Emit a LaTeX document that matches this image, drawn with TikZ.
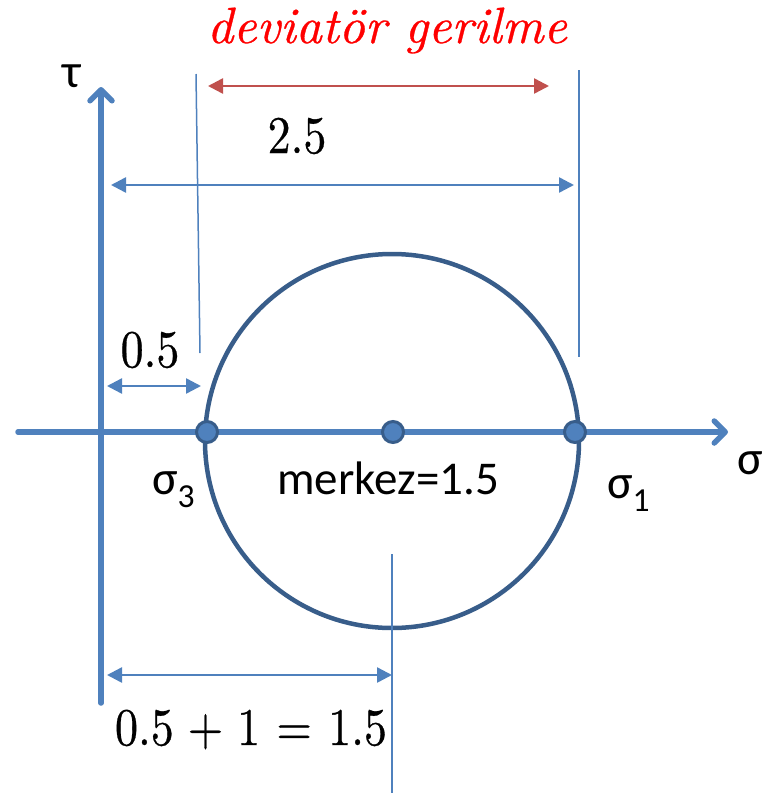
\documentclass[tikz,border=0pt]{standalone}
\usepackage{fontspec}
\usepackage{graphicx}
\newfontfamily\calfont{Carlito}
\newfontfamily\numfont{lmroman10-regular.otf}[FakeBold=0.6]
\newfontfamily\itfont{lmroman10-italic.otf}[FakeBold=0.6]
\usetikzlibrary{arrows.meta}
\definecolor{axisblue}{HTML}{4F81BD}
\definecolor{circblue}{HTML}{385D8A}
\definecolor{arrred}{HTML}{C0504D}
\definecolor{txtred}{HTML}{FF0000}
\tikzset{
  axis/.style={draw=axisblue, line width=5.5pt, line cap=round,
    -{Straight Barb[length=11pt,width=22pt,line cap=round,line join=round]}},
  thinline/.style={draw=axisblue, line width=1.5pt},
  dimarrow/.style={draw=axisblue, line width=2.5pt,
    {Triangle[length=15pt,width=15pt]}-{Triangle[length=15pt,width=15pt]}},
  redarrow/.style={draw=arrred, line width=2.5pt,
    {Triangle[length=15pt,width=15pt]}-{Triangle[length=15pt,width=15pt]}},
  dotnode/.style={circle, fill=axisblue, draw=circblue, line width=3pt,
    minimum size=21pt, inner sep=0pt},
  numlbl/.style={inner sep=0pt, anchor=base, font=\numfont\fontsize{46}{50}\selectfont},
  callbl/.style={inner sep=0pt, anchor=base, font=\calfont\fontsize{47}{50}\selectfont},
  greeklbl/.style={inner sep=0pt, anchor=base west, font=\calfont\fontsize{48}{52}\selectfont},
}
\begin{document}
\begin{tikzpicture}[x=1pt,y=-1pt]
\useasboundingbox (0,0) rectangle (766,793);
% axes
\coordinate (sxA) at (18,432);
\coordinate (sxB) at (728,432);
\coordinate (tyA) at (101,703);
\coordinate (tyB) at (101,87);
\draw[axis] (sxA) -- (sxB);
\draw[axis] (tyA) -- (tyB);
% circle
\draw[circblue, line width=4.5pt] (392,441) circle[radius=187];
% dots
\node[dotnode] (s3) at (207,432) {};
\node[dotnode] (mc) at (393,432) {};
\node[dotnode] (s1) at (575,432) {};
% thin extension lines
\coordinate (l1a) at (196,74);
\coordinate (l1b) at (200,353);
\coordinate (l2a) at (579,70);
\coordinate (l2b) at (579,357);
\coordinate (l3a) at (392,554);
\coordinate (l3b) at (392,793);
\draw[thinline] (l1a) -- (l1b);
\draw[thinline] (l2a) -- (l2b);
\draw[thinline] (l3a) -- (l3b);
% dimension arrows
\coordinate (ra) at (208,86);
\coordinate (rb) at (549,86);
\draw[redarrow] (ra) -- (rb);
\coordinate (ba) at (111,185);
\coordinate (bb) at (574,185);
\draw[dimarrow] (ba) -- (bb);
\coordinate (ha) at (107,386);
\coordinate (hb) at (201,386);
\draw[dimarrow] (ha) -- (hb);
\coordinate (ca) at (107,675);
\coordinate (cb) at (392,675);
\draw[dimarrow] (ca) -- (cb);
% labels
\node[inner sep=0pt, anchor=base, text=txtred,
  font=\itfont\fontsize{51}{54}\selectfont] (dev) at (387,43) {deviatör gerilme};
\node[numlbl] (l25) at (297,153) {\scalebox{1}[1.15]{2.5}};
\node[numlbl] (l05) at (150,367) {\scalebox{1}[1.15]{0.5}};
\node[numlbl] (l15) at (251,745) {\scalebox{1}[1.15]{0.5\hspace{0.3em}+\hspace{0.3em}1\hspace{0.35em}=\hspace{0.35em}1.5}};
\node[callbl] (mk) at (388,494) {merkez=1.5};
\node[greeklbl] (tau) at (62,87) {τ};
\node[greeklbl] (sig) at (737,474) {σ};
\node[greeklbl] (sig3) at (152,494) {σ\textsubscript{3}};
\node[greeklbl] (sig1) at (607,498) {σ\textsubscript{1}};
\end{tikzpicture}
\end{document}
